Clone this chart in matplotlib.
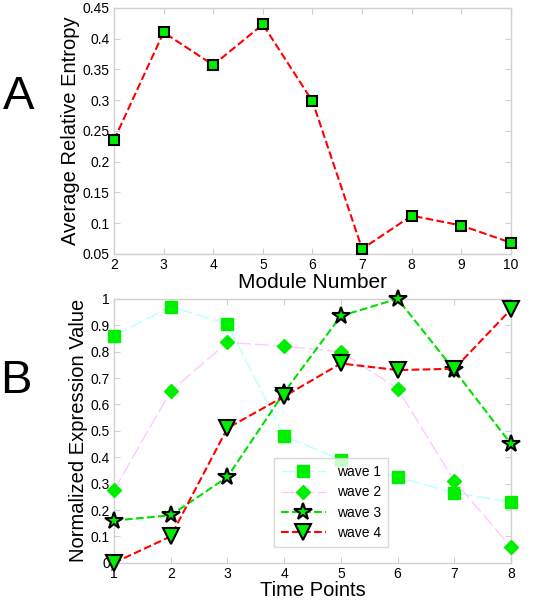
import numpy as np
import matplotlib.pyplot as plt

plt.rcParams['font.family'] = ['Liberation Sans', 'DejaVu Sans']

# panel A
modules = [2, 3, 4, 5, 6, 7, 8, 9, 10]
entropy = [0.235, 0.410, 0.357, 0.423, 0.298, 0.058, 0.112, 0.096, 0.068]

# panel B
time_pts = [1, 2, 3, 4, 5, 6, 7, 8]
wave1 = [0.86, 0.97, 0.905, 0.48, 0.39, 0.325, 0.265, 0.23]
wave2 = [0.275, 0.65, 0.835, 0.82, 0.80, 0.66, 0.31, 0.06]
wave3 = [0.16, 0.18, 0.325, 0.645, 0.935, 1.0, 0.73, 0.45]
wave4 = [0.0, 0.10, 0.51, 0.63, 0.755, 0.73, 0.735, 0.96]

green = '#00ee00'
frame = '#d0d0d0'

fig = plt.figure(figsize=(5.56, 6.0), dpi=100)
axA = fig.add_axes([0.205, 0.577, 0.714, 0.410])
axB = fig.add_axes([0.205, 0.062, 0.714, 0.440])


def style(ax):
    for s in ax.spines.values():
        s.set_color(frame)
        s.set_linewidth(1.0)
    ax.tick_params(direction='in', top=True, right=True, color=frame,
                   length=4, labelsize=10, pad=3)


axA.plot(modules, entropy, '--', color='red', lw=1.5, marker='s',
         markersize=7.5, markerfacecolor=green, markeredgecolor='black',
         markeredgewidth=1.5, clip_on=False, zorder=3)
axA.set_xlim(2, 10)
axA.set_ylim(0.05, 0.45)
axA.set_xticks(modules)
yt = np.arange(0.05, 0.451, 0.05)
axA.set_yticks(yt)
axA.set_yticklabels(['%g' % round(v, 2) for v in yt])
axA.set_xlabel('Module Number', fontsize=15, labelpad=1)
axA.set_ylabel('Average Relative Entropy', fontsize=14.5, labelpad=2)
style(axA)

axB.plot(time_pts, wave1, color='#b8ffff', lw=1.0, ls=(0, (10, 3)),
         marker='s', markersize=8, markerfacecolor=green,
         markeredgecolor=green, label='wave 1', clip_on=False, zorder=3)
axB.plot(time_pts, wave2, color='#ffc8ff', lw=1.0, ls=(0, (10, 3)),
         marker='D', markersize=7, markerfacecolor=green,
         markeredgecolor=green, label='wave 2', clip_on=False, zorder=3)
axB.plot(time_pts, wave3, '--', color='#00e000', lw=1.5, marker='*',
         markersize=13, markerfacecolor=green, markeredgecolor='black',
         markeredgewidth=1.5, label='wave 3', clip_on=False, zorder=4)
axB.plot(time_pts, wave4, '--', color='red', lw=1.5, marker='v',
         markersize=12, markerfacecolor=green, markeredgecolor='black',
         markeredgewidth=1.5, label='wave 4', clip_on=False, zorder=4)
axB.set_xlim(1, 8)
axB.set_ylim(0, 1)
axB.set_xticks(time_pts)
ytb = np.arange(0, 1.01, 0.1)
axB.set_yticks(ytb)
axB.set_yticklabels(['%g' % round(v, 1) for v in ytb])
axB.set_xlabel('Time Points', fontsize=14.5, labelpad=0)
axB.set_ylabel('Normalized Expression Value', fontsize=14.5, labelpad=2)
style(axB)

leg = axB.legend(loc='lower left', bbox_to_anchor=(0.386, 0.034),
                 fontsize=10, frameon=True, fancybox=False,
                 handlelength=3.2, borderpad=0.5, labelspacing=0.45)
leg.get_frame().set_edgecolor(frame)
leg.get_frame().set_linewidth(1.0)

fig.text(0.033, 0.838, 'A', fontsize=34, ha='center', va='center')
fig.text(0.029, 0.365, 'B', fontsize=34, ha='center', va='center')

fig.savefig('out.png', dpi=100)
